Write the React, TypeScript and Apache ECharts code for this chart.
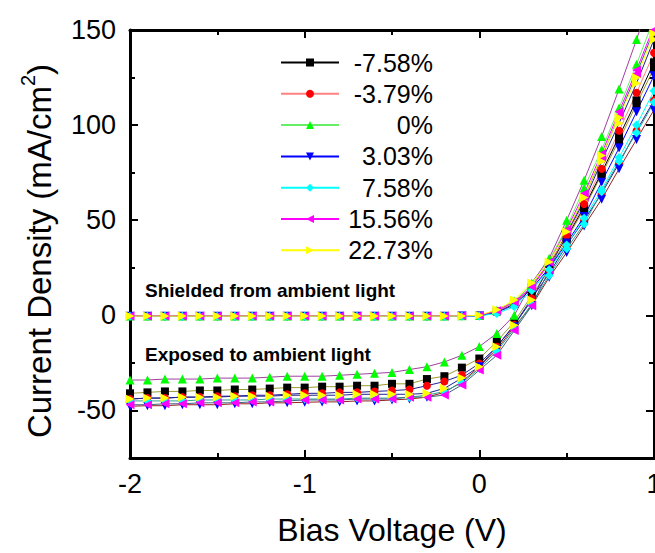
import React, { useEffect, useRef } from 'react';
import * as echarts from 'echarts';

const voltage = [-2.0, -1.9, -1.8, -1.7, -1.6, -1.5, -1.4, -1.3, -1.2, -1.1, -1.0, -0.9, -0.8, -0.7, -0.6, -0.5, -0.4, -0.3, -0.2, -0.1, 0.0, 0.1, 0.2, 0.3, 0.4, 0.5, 0.6, 0.7, 0.8, 0.9, 1.0];

const strainLabels = ['-7.58%', '-3.79%', '0%', '3.03%', '7.58%', '15.56%', '22.73%'];
const yTickValues = [-50, 0, 50, 100, 150];

// Shielded from ambient light (dark)
const darkM758 = [-0.4, -0.4, -0.4, -0.4, -0.4, -0.4, -0.4, -0.4, -0.4, -0.4, -0.4, -0.4, -0.4, -0.4, -0.4, -0.4, -0.4, -0.4, -0.4, -0.3, -0.2, 2, 6, 15, 27, 41, 57, 75, 94, 113, 133];
const darkM379 = [-0.4, -0.4, -0.4, -0.4, -0.4, -0.4, -0.4, -0.4, -0.4, -0.4, -0.4, -0.4, -0.4, -0.4, -0.4, -0.4, -0.4, -0.4, -0.4, -0.3, -0.2, 2, 6.5, 15, 27, 42, 58.5, 77, 97, 117, 138];
const darkP0 = [-0.3, -0.3, -0.3, -0.3, -0.3, -0.3, -0.3, -0.3, -0.3, -0.3, -0.3, -0.3, -0.3, -0.3, -0.3, -0.3, -0.3, -0.3, -0.3, -0.2, -0.1, 2.5, 7.5, 16, 29, 46, 67, 87, 109, 132, 156];
const darkP303 = [-0.5, -0.5, -0.5, -0.5, -0.5, -0.5, -0.5, -0.5, -0.5, -0.5, -0.5, -0.5, -0.5, -0.5, -0.5, -0.5, -0.5, -0.5, -0.5, -0.4, -0.3, 1.5, 5.5, 14, 25, 38, 52, 70, 88, 107, 126];
const darkP758 = [-0.5, -0.5, -0.5, -0.5, -0.5, -0.5, -0.5, -0.5, -0.5, -0.5, -0.5, -0.5, -0.5, -0.5, -0.5, -0.5, -0.5, -0.5, -0.5, -0.4, -0.3, 1, 4.5, 13, 24, 37, 51, 66, 83, 100, 118];
const darkP1556 = [-0.3, -0.3, -0.3, -0.3, -0.3, -0.3, -0.3, -0.3, -0.3, -0.3, -0.3, -0.3, -0.3, -0.3, -0.3, -0.3, -0.3, -0.3, -0.3, -0.2, -0.1, 2.5, 7, 15, 28, 45, 64, 85, 107, 129, 152];
const darkP2273 = [-0.4, -0.4, -0.4, -0.4, -0.4, -0.4, -0.4, -0.4, -0.4, -0.4, -0.4, -0.4, -0.4, -0.4, -0.4, -0.4, -0.4, -0.4, -0.4, -0.3, 0, 3, 8, 17, 28, 44, 62, 84, 104, 125, 148];

// Exposed to ambient light (light)
const lightM758 = [-41, -40.5, -40, -40, -39.5, -39.5, -39, -39, -38.5, -38, -38, -37.5, -37.5, -37, -37, -36, -36, -33.5, -32, -27.5, -22.7, -13.8, -3.4, 10.5, 24, 40, 56, 74, 92, 111, 130];
const lightM379 = [-44, -43.5, -43.5, -43, -43, -42.5, -42.5, -42, -42, -41.5, -41, -41, -40.5, -40.5, -40, -39.6, -39, -37, -34.8, -31.4, -25.3, -16.5, -5, 9, 22, 37, 50, 64, 80, 97, 113];
const lightP0 = [-34, -34, -33.5, -33.5, -33.5, -33, -33, -33, -32.5, -32, -32, -32, -31.5, -31, -30.5, -30, -28.5, -27, -24.5, -21, -16.4, -9.5, 0, 17, 30, 50, 71, 94, 119, 145, 172];
const lightP303 = [-47.8, -47.5, -47.5, -47, -47, -47, -46.5, -46.5, -46, -46, -45.7, -45.5, -45.5, -45, -45, -44.5, -44, -43, -40.5, -35, -27, -18, -6, 5, 20, 33, 47, 61, 77, 92.5, 108];
const lightP758 = [-45, -45, -45, -45, -44.5, -44.5, -44.5, -44.5, -44, -44, -44, -44, -44, -43.5, -43.5, -43.5, -43, -42, -40, -35.5, -27.9, -19, -7, 6, 21, 35, 48, 65, 81, 96, 112];
const lightP1556 = [-47, -47, -46.5, -46.5, -46, -46, -46, -45.5, -45.5, -45, -44.5, -44.5, -44.5, -44, -44, -44, -43, -43, -41.9, -36.6, -28.8, -21, -8, 5, 24, 43, 62, 83, 105, 127, 150];
const lightP2273 = [-44, -43.5, -43.5, -43, -43, -43, -42.5, -42.5, -42.5, -42, -42, -42, -42, -41.5, -41.5, -41.5, -41.5, -41, -38.4, -33, -27, -16.5, -5.2, 8, 26, 43, 60, 81, 101, 122, 145];

const darkSets = [darkM758, darkM379, darkP0, darkP303, darkP758, darkP1556, darkP2273];
const lightSets = [lightM758, lightM379, lightP0, lightP303, lightP758, lightP1556, lightP2273];

const markerColors = ['#000000', '#ff0000', '#00ff00', '#0000ff', '#00ffff', '#ff00ff', '#ffff00'];
const symbols = ['rect', 'circle', 'triangle', 'triangle', 'diamond', 'triangle', 'triangle'];
const symbolRotations = [0, 0, 0, 180, 0, 90, -90];
const symbolSizes = [8, 8, 9, 9, 9, 9, 9];
const darkLineColors = ['#000000', '#ff8080', '#66ee66', '#0000ff', '#00ffff', '#ff00ff', '#ffff00'];
const lightLineColors = ['#9a9a30', '#202090', '#a040a0', '#902020', '#30a090', '#406080', '#202090'];

const FONT = "'Liberation Sans', Arial, Helvetica, sans-serif";

export default function App() {
  const ref = useRef<HTMLDivElement>(null);
  useEffect(() => {
    const chart = echarts.init(ref.current as HTMLDivElement, null, { renderer: 'svg' });

    const makeSeries = (i: number, sets: number[][], lineColors: string[], name: string) => ({
      type: 'line',
      name,
      xAxisIndex: 0,
      yAxisIndex: 0,
      data: voltage.map((v, k) => [v, sets[i][k]]),
      symbol: symbols[i],
      symbolSize: symbolSizes[i],
      symbolRotate: symbolRotations[i],
      showSymbol: true,
      clip: true,
      itemStyle: { color: markerColors[i] },
      lineStyle: { color: lineColors[i], width: 1 },
      emphasis: { disabled: true },
    });

    const series: any[] = [];
    strainLabels.forEach((lab, i) => series.push(makeSeries(i, lightSets, lightLineColors, lab + ' exposed')));
    strainLabels.forEach((lab, i) => series.push(makeSeries(i, darkSets, darkLineColors, lab)));

    const axisLine = { show: true, onZero: false, lineStyle: { color: '#000', width: 3 } };
    const hiddenLine = { show: false, onZero: false };
    const majorTick = { show: true, inside: true, length: 8, customValues: yTickValues, lineStyle: { width: 2, color: '#000' } };
    const minorYTick = { show: true, inside: true, length: 5, lineStyle: { width: 2, color: '#000' } };

    const option: any = {
      animation: false,
      backgroundColor: '#fff',
      textStyle: { fontFamily: FONT },
      grid: { left: 130, top: 30, right: 1, bottom: 95, containLabel: false, outerBoundsMode: 'none' },
      legend: {
        data: strainLabels,
        orient: 'vertical',
        left: 275,
        top: 45,
        itemWidth: 58,
        itemHeight: 10,
        itemGap: 6.3,
        selectedMode: false,
        formatter: (name: string) => `{t|${name}}`,
        textStyle: {
          color: '#000',
          rich: { t: { width: 89, align: 'right', fontSize: 25, lineHeight: 26, fontFamily: FONT, color: '#000' } },
        },
      },
      xAxis: [
        {
          type: 'value', position: 'bottom', min: -2, max: 1, interval: 1,
          axisLine,
          axisTick: { show: true, inside: true, length: 8, lineStyle: { width: 2, color: '#000' } },
          minorTick: { show: true, splitNumber: 2, length: 5, lineStyle: { width: 2, color: '#000' } },
          axisLabel: { fontSize: 27, color: '#000', margin: 12, fontFamily: FONT },
          splitLine: { show: false },
          name: 'Bias Voltage (V)', nameLocation: 'middle', nameGap: 56,
          nameTextStyle: { fontSize: 32, color: '#000', fontFamily: FONT },
        },
        {
          type: 'value', position: 'top', min: -2, max: 1, interval: 1,
          axisLine,
          axisTick: { show: true, inside: true, length: 8, lineStyle: { width: 2, color: '#000' } },
          minorTick: { show: true, splitNumber: 2, length: 5, lineStyle: { width: 2, color: '#000' } },
          axisLabel: { show: false },
          splitLine: { show: false },
        },
      ],
      yAxis: [
        {
          type: 'value', position: 'left', min: -75, max: 150, interval: 25,
          axisLine,
          axisTick: majorTick,
          axisLabel: { fontSize: 27, color: '#000', margin: 14, fontFamily: FONT, customValues: yTickValues },
          splitLine: { show: false },
          name: '{a|Current Density (mA/cm}{s|2}{a|)}',
          nameLocation: 'middle', nameGap: 74, nameRotate: 90,
          nameTextStyle: {
            color: '#000', padding: [0, 14, 0, 0],
            rich: {
              a: { fontSize: 33, fontFamily: FONT, color: '#000', lineHeight: 38, verticalAlign: 'bottom' },
              s: { fontSize: 20, fontFamily: FONT, color: '#000', lineHeight: 38, verticalAlign: 'top' },
            },
          },
        },
        {
          type: 'value', position: 'right', min: -75, max: 150, interval: 25,
          axisLine,
          axisTick: majorTick,
          axisLabel: { show: false },
          splitLine: { show: false },
        },
        {
          type: 'value', position: 'left', offset: 0, min: -75, max: 150, interval: 25,
          axisLine: hiddenLine,
          axisTick: minorYTick,
          axisLabel: { show: false },
          splitLine: { show: false },
        },
        {
          type: 'value', position: 'right', offset: 0, min: -75, max: 150, interval: 25,
          axisLine: hiddenLine,
          axisTick: minorYTick,
          axisLabel: { show: false },
          splitLine: { show: false },
        },
      ],
      graphic: [
        { type: 'text', x: 145, y: 290, style: { text: 'Shielded from ambient light', font: `bold 19px ${FONT}`, fill: '#000', verticalAlign: 'middle' } },
        { type: 'text', x: 145, y: 354, style: { text: 'Exposed to ambient light', font: `bold 19px ${FONT}`, fill: '#000', verticalAlign: 'middle' } },
      ],
      series,
    };

    chart.setOption(option);
    return () => chart.dispose();
  }, []);

  return <div ref={ref} style={{ position: 'absolute', left: 0, top: 0, width: 655, height: 553, background: '#fff' }} />;
}
